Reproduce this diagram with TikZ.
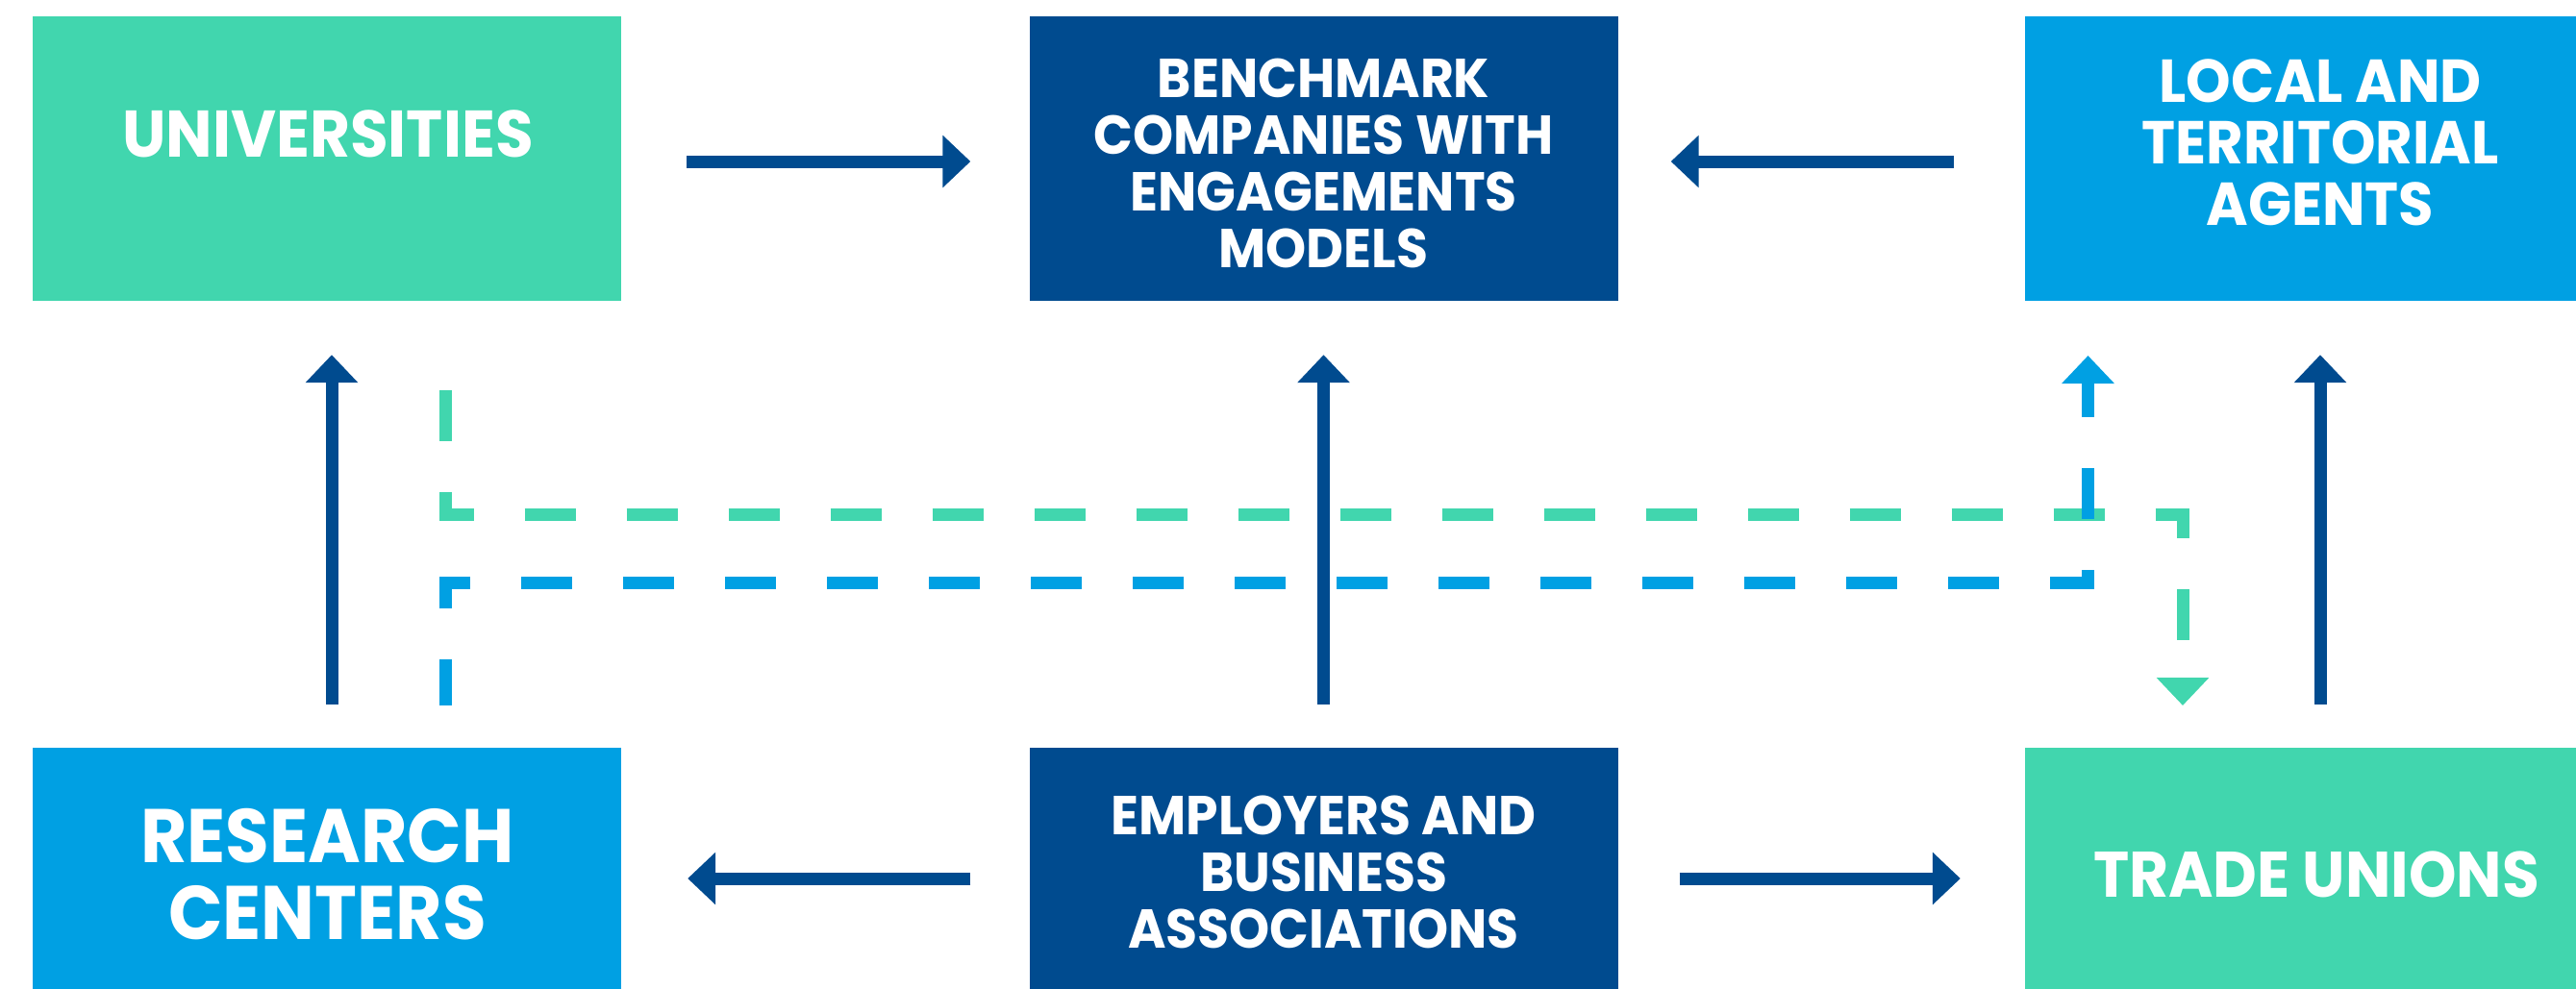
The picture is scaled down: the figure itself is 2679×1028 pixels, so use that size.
\documentclass[tikz,border=0pt]{standalone}
\usepackage{fontspec}
\setmainfont{Poppins}[FakeStretch=0.94]
\usetikzlibrary{arrows.meta}
\definecolor{cgreen}{HTML}{41D6AE}
\definecolor{cdark}{HTML}{004B8F}
\definecolor{clight}{HTML}{00A0E3}
\tikzset{
  box/.style={rectangle, minimum width=612pt, minimum height=296pt, inner sep=0pt, draw=none},
  txt/.style={text=white, align=center, inner sep=0pt, font=\bfseries},
  tip/.style={-{Triangle[length=29pt,width=53pt]}},
  arr/.style={draw=cdark, line width=13pt, tip},
  dgreen/.style={draw=cgreen, line width=13pt, dash pattern=on 53pt off 53pt, dash phase=69pt, tip},
  dblue/.style={draw=clight, line width=13pt, dash pattern=on 53pt off 53pt, dash phase=5pt, tip},
}
\begin{document}
\begin{tikzpicture}[x=1pt,y=-1pt]
\useasboundingbox (0,0) rectangle (2679,1028);
\clip (0,0) rectangle (2679,1028);
% boxes
\node[box, fill=cgreen] (uni)   at (340,165)    {};
\node[box, fill=cdark]  (bench) at (1376.5,165) {};
\node[box, fill=clight] (local) at (2412,165)   {};
\node[box, fill=clight] (res)   at (340,926)    {};
\node[box, fill=cdark]  (emp)   at (1376.5,926) {};
\node[box, fill=cgreen] (trade) at (2412,926)   {};
% texts
\node[txt, font=\bfseries\fontsize{68.6}{70}\selectfont] (unit) at (341,139) {UNIVERSITIES};
\node[txt, font=\bfseries\fontsize{57}{59}\selectfont] (bencht) at (1376.5,170) {BENCHMARK\\COMPANIES WITH\\ENGAGEMENTS\\MODELS};
\node[txt, font=\bfseries\fontsize{63}{64}\selectfont] (localt) at (2413,148) {LOCAL AND\\TERRITORIAL\\AGENTS};
\node[txt, font=\bfseries\fontsize{79}{80}\selectfont] (rest) at (340.5,909.5) {RESEARCH\\CENTERS};
\node[txt, font=\bfseries\fontsize{57}{59}\selectfont] (empt) at (1376.5,907) {EMPLOYERS AND\\BUSINESS\\ASSOCIATIONS};
\node[txt, font=\bfseries\fontsize{67}{68}\selectfont] (tradet) at (2409,910) {TRADE UNIONS};
% solid arrows
\draw[arr, shorten <=68pt, shorten >=61pt] ([yshift=-3pt]uni.east) -- ([yshift=-3pt]bench.west);
\draw[arr, shorten <=74pt, shorten >=55pt] ([yshift=-3pt]local.west) -- ([yshift=-3pt]bench.east);
\draw[arr, shorten <=61pt, shorten >=69pt] ([yshift=12pt]emp.west) -- ([yshift=12pt]res.east);
\draw[arr, shorten <=64pt, shorten >=67pt] ([yshift=12pt]emp.east) -- ([yshift=12pt]trade.west);
\draw[arr, shorten <=45pt, shorten >=56pt] ([xshift=5pt]res.north) -- ([xshift=5pt]uni.south);
\draw[arr, shorten <=45pt, shorten >=56pt] (emp.north) -- (bench.south);
\draw[arr, shorten <=45pt, shorten >=56pt] ([xshift=1pt]trade.north) -- ([xshift=1pt]local.south);
% dashed connectors
\coordinate (gs) at (463,369);
\coordinate (ge) at (2270,734);
\coordinate (bs) at (463,734);
\coordinate (be) at (2171.5,370);
\draw[dgreen] (gs) |- (2270,535.5) -- (ge);
\draw[dblue] (bs) |- (2171.5,606) -- (be);
\end{tikzpicture}
\end{document}
